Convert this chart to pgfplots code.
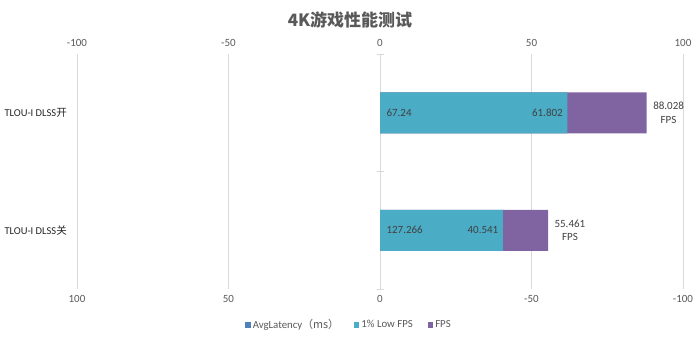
\documentclass[border=0pt]{standalone}
\usepackage{pgfplots}
\pgfplotsset{compat=1.18}
\usepackage{fontspec}
\setmainfont{Carlito}
\newfontfamily\cjk{Noto Sans CJK SC}
\definecolor{tealbar}{HTML}{4BACC6}
\definecolor{purpbar}{HTML}{8064A2}
\definecolor{bluebar}{HTML}{4F81BD}
\definecolor{txt}{HTML}{595959}
\definecolor{lbl}{HTML}{404040}
\definecolor{grd}{HTML}{D9D9D9}
\begin{document}
\begin{tikzpicture}[x=1pt,y=1pt]
\useasboundingbox (0,0) rectangle (700,341);
% title
\node[font=\cjk\bfseries\fontsize{17}{20}\selectfont, text=txt] at (350,321) {4K游戏性能测试};
\begin{axis}[at={(77pt,52pt)}, anchor=south west, scale only axis,
  width=606pt, height=235pt,
  xmin=-100, xmax=100, ymin=-0.5, ymax=1.5,
  xtick={-100,-50,0,50,100}, ytick=\empty,
  xticklabel pos=upper,
  axis line style={draw=none},
  tick style={draw=none},
  xmajorgrids, grid style={grd, line width=0.75pt},
  xticklabel style={font=\fontsize{11}{13}\selectfont, text=txt, yshift=4pt},
  /pgf/number format/assume math mode=true,
  clip=false,
  legend style={at={(0.449,-0.153)}, anchor=center, draw=none, fill=none,
    legend columns=3, font=\fontsize{10.8}{13}\selectfont, text=txt,
    /tikz/every odd column/.append style={column sep=0pt},
    /tikz/every even column/.append style={column sep=13pt}},
  legend image code/.code={\fill[#1, draw=none] (0pt,-2.7pt) rectangle (5.4pt,2.7pt);},
]
% axis line at 0 with crossing ticks
\draw[grd, line width=0.75pt] (axis cs:0,-0.5) -- (axis cs:0,1.5);
\draw[grd, line width=0.75pt] ([xshift=-3.5pt]axis cs:0,-0.5) -- ([xshift=3.5pt]axis cs:0,-0.5);
\draw[grd, line width=0.75pt] ([xshift=-3.5pt]axis cs:0,0.5) -- ([xshift=3.5pt]axis cs:0,0.5);
\draw[grd, line width=0.75pt] ([xshift=-3.5pt]axis cs:0,1.5) -- ([xshift=3.5pt]axis cs:0,1.5);
% FPS bars
\addplot[xbar, bar width=41pt, bar shift=0pt, fill=purpbar, draw=none, forget plot,
  point meta=explicit symbolic,
  nodes near coords={\pgfplotspointmeta\\FPS},
  nodes near coords style={align=center, anchor=west, xshift=3pt, text=lbl,
    font=\fontsize{11}{13.5}\selectfont}]
  coordinates {(88.028,1) [88.028] (55.461,0) [55.461]};
% 1% Low FPS bars
\addplot[xbar, bar width=41pt, bar shift=0pt, fill=tealbar, draw=none, forget plot,
  point meta=explicit symbolic,
  nodes near coords,
  nodes near coords style={anchor=east, xshift=-1pt, text=lbl,
    font=\fontsize{11}{13}\selectfont}]
  coordinates {(61.802,1) [61.802] (40.541,0) [40.541]};
% AvgLatency (ms) labels at the bar base
\addplot[draw=none, mark=none, forget plot,
  point meta=explicit symbolic,
  nodes near coords, nodes near coords align={horizontal},
  nodes near coords style={anchor=west, xshift=3pt, text=lbl,
    font=\fontsize{11}{13}\selectfont}]
  coordinates {(0,1) [67.24] (0,0) [127.266]};
% category labels
\node[anchor=west, font=\fontsize{10.5}{12}\selectfont, text=black!85] at ([xshift=-76pt]axis cs:-100,1) {TLOU-I DLSS{\cjk 开}};
\node[anchor=west, font=\fontsize{10.5}{12}\selectfont, text=black!85] at ([xshift=-76pt]axis cs:-100,0) {TLOU-I DLSS{\cjk 关}};
% legend
\addlegendimage{fill=bluebar}
\addlegendentry{AvgLatency{\cjk （ms）}}
\addlegendimage{fill=tealbar}
\addlegendentry{1\% Low FPS}
\addlegendimage{fill=purpbar}
\addlegendentry{FPS}
\end{axis}
\begin{axis}[at={(77pt,52pt)}, anchor=south west, scale only axis,
  width=606pt, height=235pt,
  xmin=-100, xmax=100, ymin=-0.5, ymax=1.5, x dir=reverse,
  xtick={-100,-50,0,50,100}, ytick=\empty,
  xticklabel pos=lower,
  axis line style={draw=none},
  tick style={draw=none},
  xticklabel style={font=\fontsize{11}{13}\selectfont, text=txt, yshift=-3pt},
  /pgf/number format/assume math mode=true,
]
\end{axis}
\end{tikzpicture}
\end{document}
